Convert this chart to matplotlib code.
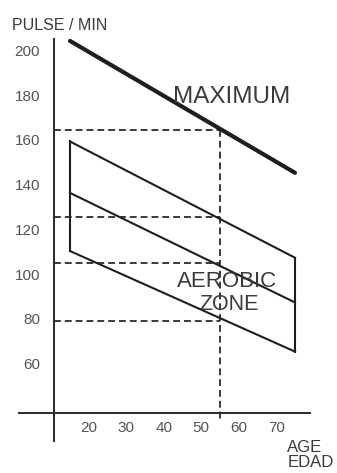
import matplotlib
matplotlib.use("Agg")
import matplotlib.pyplot as plt

plt.rcParams['font.family'] = ['Liberation Sans', 'DejaVu Sans']

# Data
ages_span = [15, 75]
maximum = [205, 146]
zone_upper = [160, 108]
zone_mid = [137, 88]
zone_lower = [111, 66]
ref_age = 55
ref_pulses = [165, 126, 105.5, 79.5]
yticks = [200, 180, 160, 140, 120, 100, 80, 60]
xticks = [20, 30, 40, 50, 60, 70]

axis_age = 10.7
axis_pulse = 38.5

fig = plt.figure(figsize=(3.37, 4.73), dpi=100)
ax = fig.add_axes([0, 0, 1, 1])
ax.set_xlim(-3.67, 86.2)
ax.set_ylim(11.7, 223.3)
ax.axis('off')

line_col = '#1e1e1e'
text_col = '#3a3a3a'
tick_col = '#555555'

# axes lines
ax.plot([axis_age, axis_age], [25.6, 206.3], color='#2a2a2a', lw=1.4, solid_capstyle='butt')
ax.plot([1.2, 79.2], [axis_pulse, axis_pulse], color='#2a2a2a', lw=1.4, solid_capstyle='butt')

# dashed reference lines
dash = (0, (3.8, 2.2))
for p in ref_pulses:
    ax.plot([axis_age, ref_age], [p, p], color='#2a2a2a', lw=1.3, linestyle=dash)
ax.plot([ref_age, ref_age], [ref_pulses[0], 35], color='#2a2a2a', lw=1.3, linestyle=dash)

# maximum line
ax.plot(ages_span, maximum, color=line_col, lw=3.0, solid_capstyle='round')

# aerobic zone
ax.plot(ages_span, zone_upper, color=line_col, lw=1.5)
ax.plot(ages_span, zone_mid, color=line_col, lw=1.5)
ax.plot(ages_span, zone_lower, color=line_col, lw=1.5)
ax.plot([ages_span[0], ages_span[0]], [zone_upper[0], zone_lower[0]], color=line_col, lw=1.5)
ax.plot([ages_span[1], ages_span[1]], [zone_upper[1], zone_lower[1]], color=line_col, lw=1.5)

# tick labels
for v in yticks:
    ax.text(7.0, v, str(v), ha='right', va='center', fontsize=11, color=tick_col)
for v in xticks:
    ax.text(v, 31.8, str(v), ha='center', va='center', fontsize=11, color=tick_col)

# axis titles
ax.text(-0.5, 212.1, 'PULSE / MIN', ha='left', va='center', fontsize=11.5, color=text_col)
ax.text(72.9, 23.3, 'AGE', ha='left', va='center', fontsize=12, color=text_col)
ax.text(72.9, 16.6, 'EDAD', ha='left', va='center', fontsize=12, color=text_col)

# annotations
ax.text(58.2, 177.0, 'MAXIMUM', ha='center', va='baseline', fontsize=17.5, color=text_col)
ax.text(57.0, 95.0, 'AEROBIC', ha='center', va='baseline', fontsize=16, color=text_col)
ax.text(57.4, 84.6, 'ZONE', ha='center', va='baseline', fontsize=15.5, color=text_col)

fig.savefig('out.png', dpi=100, facecolor='white')
